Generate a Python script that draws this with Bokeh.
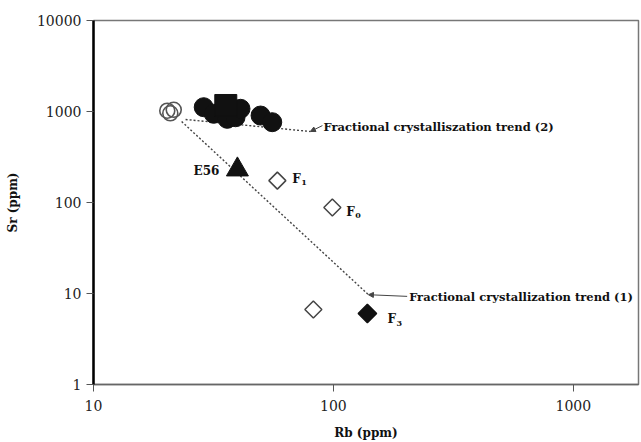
from bokeh.plotting import figure
from bokeh.models import FixedTicker, PrintfTickFormatter, Arrow, NormalHead, ColumnDataSource
from bokeh.core.properties import value
from bokeh.embed import file_html
from bokeh.resources import INLINE

# ---- data ----
rb_open_circle = [20.3, 20.9, 21.6]
sr_open_circle = [1020, 955, 1045]

rb_filled_circle = [28.8, 31.7, 36.1, 39.1, 41.0, 49.7, 55.6]
sr_filled_circle = [1115, 944, 831, 865, 1071, 903, 763]

rb_square = [35.6]
sr_square = [1164]

rb_triangle = [39.8]
sr_triangle = [230]

rb_open_diamond = [58.4, 99.0, 82.5]
sr_open_diamond = [174, 88, 6.67]

rb_filled_diamond = [138.6]
sr_filled_diamond = [6.03]

# trend lines
rb_trend1 = [23.3, 140.0]
sr_trend1 = [776, 9.7]
rb_trend2 = [24.2, 80.2]
sr_trend2 = [817, 603]

# annotation arrows (start -> end)
arrow1_rb = [203.0, 140.0]
arrow1_sr = [9.3, 9.7]
arrow2_rb = [90.0, 80.2]
arrow2_sr = [700, 603]

trend1_text = "Fractional crystallization trend (1)"
trend2_text = "Fractional crystalliszation  trend (2)"

sample_labels = ["E56", "F", "F", "F"]
sample_rb = [39.8, 58.4, 99.0, 138.6]
sample_sr = [230, 174, 88, 6.03]
sub_labels = ["", "1", "0", "3"]

x_ticks = [10, 100, 1000]
y_ticks = [1, 10, 100, 1000, 10000]

SERIF = "DejaVu Serif"

p = figure(width=641, height=442, x_axis_type="log", y_axis_type="log",
           x_range=(10, 1870), y_range=(1, 10000),
           output_backend="svg", toolbar_location=None,
           min_border_left=93, min_border_right=3, min_border_top=20, min_border_bottom=58,
           background_fill_color="white", border_fill_color="white")

p.grid.visible = False
p.outline_line_color = "#777777"
p.outline_line_width = 1.5

for ax in (p.xaxis, p.yaxis):
    ax.major_tick_out = 7
    ax.major_tick_in = 0
    ax.minor_tick_line_color = None
    ax.major_tick_line_color = "#555555"
    ax.major_label_text_font = SERIF
    ax.major_label_text_font_size = "14px"
    ax.major_label_text_color = "#222222"
    ax.axis_label_text_font = SERIF
    ax.axis_label_text_font_style = "bold"
    ax.axis_label_text_font_size = "12px"
    ax.axis_label_text_color = "#111111"
    ax.formatter = PrintfTickFormatter(format="%d")

p.xaxis.ticker = FixedTicker(ticks=x_ticks)
p.yaxis.ticker = FixedTicker(ticks=y_ticks)
p.xaxis.axis_label = "Rb (ppm)"
p.yaxis.axis_label = "Sr (ppm)"
p.yaxis.axis_line_color = "black"
p.yaxis.axis_line_width = 2.5
p.xaxis.axis_line_color = "#666666"
p.xaxis.axis_line_width = 1.5
p.xaxis.major_label_standoff = 8
p.yaxis.major_label_standoff = 5
p.xaxis.axis_label_standoff = 12
p.yaxis.axis_label_standoff = 14

# trend lines
p.line(rb_trend1, sr_trend1, line_color="#444444", line_width=1.4, line_dash="2 2")
p.line(rb_trend2, sr_trend2, line_color="#444444", line_width=1.4, line_dash="2 2")

# markers
p.scatter(rb_open_circle, sr_open_circle, marker="circle", size=15,
          fill_color=None, line_color="#555555", line_width=1.6)
p.scatter(rb_filled_circle, sr_filled_circle, marker="circle", size=19,
          fill_color="#111111", line_color="#111111")
p.scatter(rb_square, sr_square, marker="square", size=22,
          fill_color="#111111", line_color="#111111")
p.scatter(rb_triangle, sr_triangle, marker="triangle", size=22,
          fill_color="#111111", line_color="#111111")
p.scatter(rb_open_diamond, sr_open_diamond, marker="square", angle=0.785398, size=12,
          fill_color="white", line_color="#444444", line_width=1.5)
p.scatter(rb_filled_diamond, sr_filled_diamond, marker="square", angle=0.785398, size=13,
          fill_color="#111111", line_color="#111111", line_width=1.5)

# arrows
p.add_layout(Arrow(end=NormalHead(size=5, fill_color="#444444", line_color="#444444"),
                   x_start=arrow1_rb[0], y_start=arrow1_sr[0],
                   x_end=arrow1_rb[1], y_end=arrow1_sr[1],
                   line_color="#444444", line_width=1))
p.add_layout(Arrow(end=NormalHead(size=5, fill_color="#444444", line_color="#444444"),
                   x_start=arrow2_rb[0], y_start=arrow2_sr[0],
                   x_end=arrow2_rb[1], y_end=arrow2_sr[1],
                   line_color="#444444", line_width=1))

# trend annotation texts
p.text(x=[arrow1_rb[0]], y=[arrow1_sr[0]], text=[trend1_text], x_offset=2, y_offset=1,
       text_font=value(SERIF), text_font_style="bold", text_font_size="11.5px",
       text_baseline="middle", text_align="left", text_color="#111111")
p.text(x=[arrow2_rb[0]], y=[arrow2_sr[0]], text=[trend2_text], x_offset=1, y_offset=1,
       text_font=value(SERIF), text_font_style="bold", text_font_size="11.5px",
       text_baseline="middle", text_align="left", text_color="#111111")

# sample labels
src = ColumnDataSource(dict(x=sample_rb, y=sample_sr, t=sample_labels,
                            xo=[-18, 15, 14, 20], yo=[1, -2, 4, 6],
                            al=["right", "left", "left", "left"],
                            sub=sub_labels, sxo=[0, 24, 23, 29], syo=[0, 2, 8, 10]))
p.text(x="x", y="y", text="t", x_offset="xo", y_offset="yo", text_align="al",
       source=src, text_font=value(SERIF), text_font_style="bold", text_font_size="12px",
       text_baseline="middle", text_color="#111111")
p.text(x="x", y="y", text="sub", x_offset="sxo", y_offset="syo", text_align="left",
       source=src, text_font=value(SERIF), text_font_style="bold", text_font_size="8px",
       text_baseline="middle", text_color="#111111")

open("out.html", "w").write(file_html(p, INLINE))
